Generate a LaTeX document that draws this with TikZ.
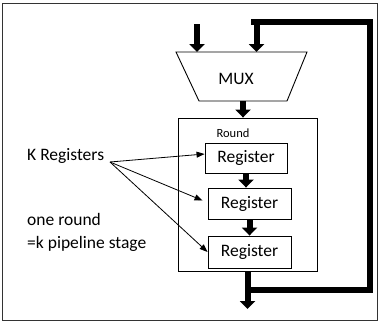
\documentclass[tikz,border=0pt]{standalone}
\usepackage{fontspec}
\setmainfont{Carlito}
\usetikzlibrary{arrows.meta,calc}

\tikzset{
  bigtxt/.style={font=\fontsize{17.5}{20}\selectfont},
  regbox/.style={draw, line width=0.9pt, inner sep=0pt, bigtxt,
                 minimum width=83pt, minimum height=31pt},
  fatarrow/.style={line width=6pt,
                   -{Triangle[width=15pt,length=8pt]}},
  fatline/.style={line width=6pt, line join=miter},
  thinarrow/.style={line width=0.8pt,
                    -{Triangle[width=6pt,length=8pt]}},
}

\begin{document}
\begin{tikzpicture}[x=1pt,y=-1pt]
  \useasboundingbox (0,0) rectangle (379,322);
  % frame
  \draw[line width=0.9pt, black!80] (2.5,3.5) rectangle (377,320);

  % multiplexer outline
  \coordinate (mtl) at (176,52);
  \coordinate (mtr) at (307,52);
  \coordinate (mbr) at (287,101);
  \coordinate (mbl) at (199,101);
  \draw[line width=0.9pt, line join=miter] (mtl) -- (mtr) -- (mbr) -- (mbl) -- cycle;
  \node[bigtxt, anchor=base] (mux) at (236,84.5) {MUX};
  \coordinate (muxout) at (243,101);

  % round block with its registers
  \node[draw, line width=0.9pt, minimum width=139pt, minimum height=153pt,
        inner sep=0pt] (round) at (247.5,194.5) {};
  \node[font=\fontsize{12.5}{14}\selectfont, anchor=base] (roundlbl)
        at (233,137) {Round};
  \node[regbox, minimum width=82pt, minimum height=30pt] (r1) at (246,158) {Register};
  \node[regbox] (r2) at (249.5,203.5) {Register};
  \node[regbox, minimum height=32pt] (r3) at (249.5,252) {Register};

  % inputs
  \coordinate (in1) at (197,24);
  \draw[fatarrow] (in1) -- (in1 |- mtl);

  % data path
  \draw[fatarrow] (muxout) -- (muxout |- round.north);
  \draw[fatarrow] (r1.south) -- (r1.south |- r2.north);
  \draw[fatarrow] (r2.south) -- (r2.south |- r3.north);
  \coordinate (out) at (247.5,309);
  \draw[fatarrow] (round.south) -- (out);

  % feedback loop
  \coordinate (fb0) at (250,290);
  \coordinate (fb1) at (370,290);
  \coordinate (fb2) at (370,21.5);
  \coordinate (fb3) at (251,21.5);
  \draw[fatline] (fb0) -- (fb1) -- (fb2) -- (fb3);
  \coordinate (fbin) at (256.5,21.5);
  \draw[fatarrow] (fbin) -- (fbin |- mtl);

  % annotations
  \node[bigtxt, anchor=base west, inner sep=0pt] (kreg) at (27,160.7) {K Registers};
  \node[bigtxt, anchor=base west, inner sep=0pt] (one) at (27,225) {one round};
  \node[bigtxt, anchor=base west, inner sep=0pt] (stage) at (27,248.3) {=k pipeline stage};
  \coordinate (k) at (110,162);
  \draw[thinarrow] (k) -- ($(r1.west)+(0,-4)$);
  \draw[thinarrow] (k) -- ($(r2.west)+(-5,-3)$);
  \draw[thinarrow] (k) -- (r3.west);
\end{tikzpicture}
\end{document}
